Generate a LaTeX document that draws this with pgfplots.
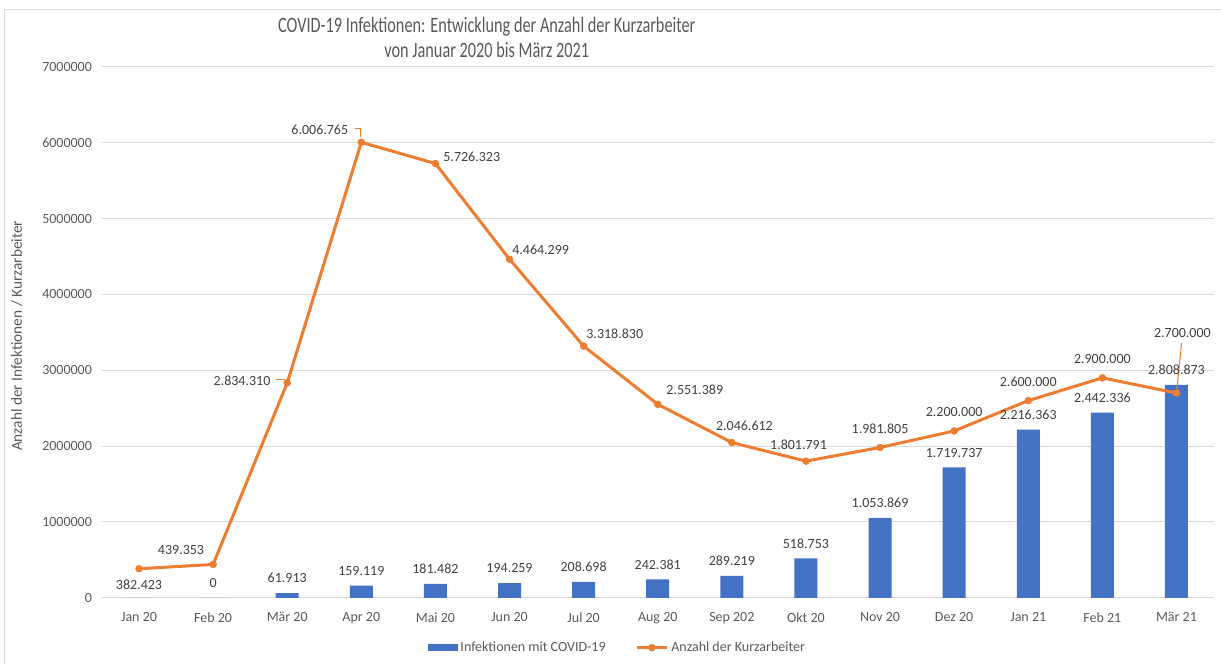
\documentclass[border=0pt]{standalone}
\usepackage{pgfplots}
\pgfplotsset{compat=1.18}
\usepackage{fontspec}
\setmainfont{Carlito}
\definecolor{barblue}{HTML}{4472C4}
\definecolor{lineorange}{HTML}{ED7D31}
\definecolor{txtgray}{HTML}{595959}
\definecolor{lblgray}{HTML}{404040}
\definecolor{gridgray}{HTML}{D9D9D9}

\begin{document}
\begin{tikzpicture}[x=0.75pt,y=0.75pt,
  lbl/.style={font=\fontsize{10.5}{12}\selectfont, text=lblgray, anchor=center}]
\path (0,0) rectangle (1221,664);
\draw[gridgray, line width=0.75pt] (5,0) -- (5,654.5) -- (1221,654.5);
\node[txtgray, font=\fontsize{16.5}{18.75}\selectfont, align=center, xscale=0.74] at (487,626.5)
  {COVID-19 Infektionen: Entwicklung der Anzahl der Kurzarbeiter\\von Januar 2020 bis März 2021};
\node[txtgray, rotate=90, font=\fontsize{11.5}{13}\selectfont] at (17,328)
  {Anzahl der Infektionen / Kurzarbeiter};
\begin{axis}[
  at={(76.5pt,49.5pt)}, anchor=south west,
  scale only axis, width=834pt, height=398.25pt,
  xmin=-0.5, xmax=14.5, ymin=0, ymax=7000000,
  clip=false,
  xtick={0,1,2,3,4,5,6,7,8,9,10,11,12,13,14},
  xticklabels={Jan 20, Feb 20, Mär 20, Apr 20, Mai 20, Jun 20, Jul 20, Aug 20,
    Sep 202, Okt 20, Nov 20, Dez 20, Jan 21, Feb 21, Mär 21},
  ytick={0,1000000,2000000,3000000,4000000,5000000,6000000,7000000},
  scaled y ticks=false,
  /pgf/number format/fixed,
  /pgf/number format/1000 sep={},
  /pgf/number format/assume math mode=true,
  ticklabel style={font=\fontsize{10.5}{12}\selectfont, text=txtgray},
  xticklabel style={yshift=-7.5pt},
  yticklabel style={xshift=-4pt},
  major tick length=0pt,
  axis line style={draw=none},
  ymajorgrids, grid style={gridgray, line width=0.75pt},
  legend style={at={(0.464,-0.094)}, anchor=center, draw=none, fill=none,
    legend columns=2, font=\fontsize{10.5}{12}\selectfont, text=txtgray,
    /tikz/every even column/.append style={column sep=20pt}},
]
% Infektionen mit COVID-19
\addplot[ybar, bar width=17.25pt, fill=barblue, draw=none,
  point meta=explicit symbolic, nodes near coords,
  nodes near coords style={font=\fontsize{10.5}{12}\selectfont, text=lblgray, yshift=4pt},
  legend image code/.code={\fill[barblue] (0pt,-2.5pt) rectangle (22.5pt,2.5pt);}]
  coordinates {
  (0,0) [] (1,0) [0] (2,61913) [61.913] (3,159119) [159.119] (4,181482) [181.482]
  (5,194259) [194.259] (6,208698) [208.698] (7,242381) [242.381] (8,289219) [289.219]
  (9,518753) [518.753] (10,1053869) [1.053.869] (11,1719737) [1.719.737]
  (12,2216363) [2.216.363] (13,2442336) [2.442.336] (14,2808873) [2.808.873]
};
\addlegendentry{Infektionen mit COVID-19}
% Anzahl der Kurzarbeiter
\addplot[lineorange, line width=2.25pt, line join=round, mark=*, mark size=2.6pt,
  mark options={line width=0.4pt},
  legend image code/.code={\draw[mark repeat=2,mark phase=2] plot coordinates {(0pt,0pt) (11.5pt,0pt) (23pt,0pt)};}]
  coordinates {
  (0,382423) (1,439353) (2,2834310) (3,6006765) (4,5726323) (5,4464299) (6,3318830)
  (7,2551389) (8,2046612) (9,1801791) (10,1981805) (11,2200000) (12,2600000)
  (13,2900000) (14,2700000)
};
\addlegendentry{Anzahl der Kurzarbeiter}
% Beschriftungen der Linie
\node[lbl] at (axis cs:0,171000) {382.423};
\node[lbl] at (axis cs:0.567,633000) {439.353};
\node[lbl] at (axis cs:1.39,2861000) {2.834.310};
\node[lbl] at (axis cs:2.44,6170000) {6.006.765};
\node[lbl] at (axis cs:4.49,5814000) {5.726.323};
\node[lbl] at (axis cs:5.42,4588000) {4.464.299};
\node[lbl] at (axis cs:6.42,3480000) {3.318.830};
\node[lbl] at (axis cs:7.50,2742000) {2.551.389};
\node[lbl] at (axis cs:8.17,2267000) {2.046.612};
\node[lbl] at (axis cs:8.90,2017000) {1.801.791};
\node[lbl] at (axis cs:10.0,2228000) {1.981.805};
\node[lbl] at (axis cs:11.0,2452000) {2.200.000};
\node[lbl] at (axis cs:12.0,2847000) {2.600.000};
\node[lbl] at (axis cs:13.0,3151000) {2.900.000};
\node[lbl] at (axis cs:14.08,3493000) {2.700.000};
% Führungslinien
\draw[lineorange, line width=0.75pt] (axis cs:1.848,2874000) -- (axis cs:1.97,2874000);
\draw[lineorange, line width=0.75pt] (axis cs:2.914,6183000) -- (axis cs:2.995,6183000) -- (axis cs:2.995,6077000);
\draw[lineorange, line width=0.75pt] (axis cs:14.07,3362000) -- (axis cs:14,2700000);
\end{axis}
\end{tikzpicture}
\end{document}
